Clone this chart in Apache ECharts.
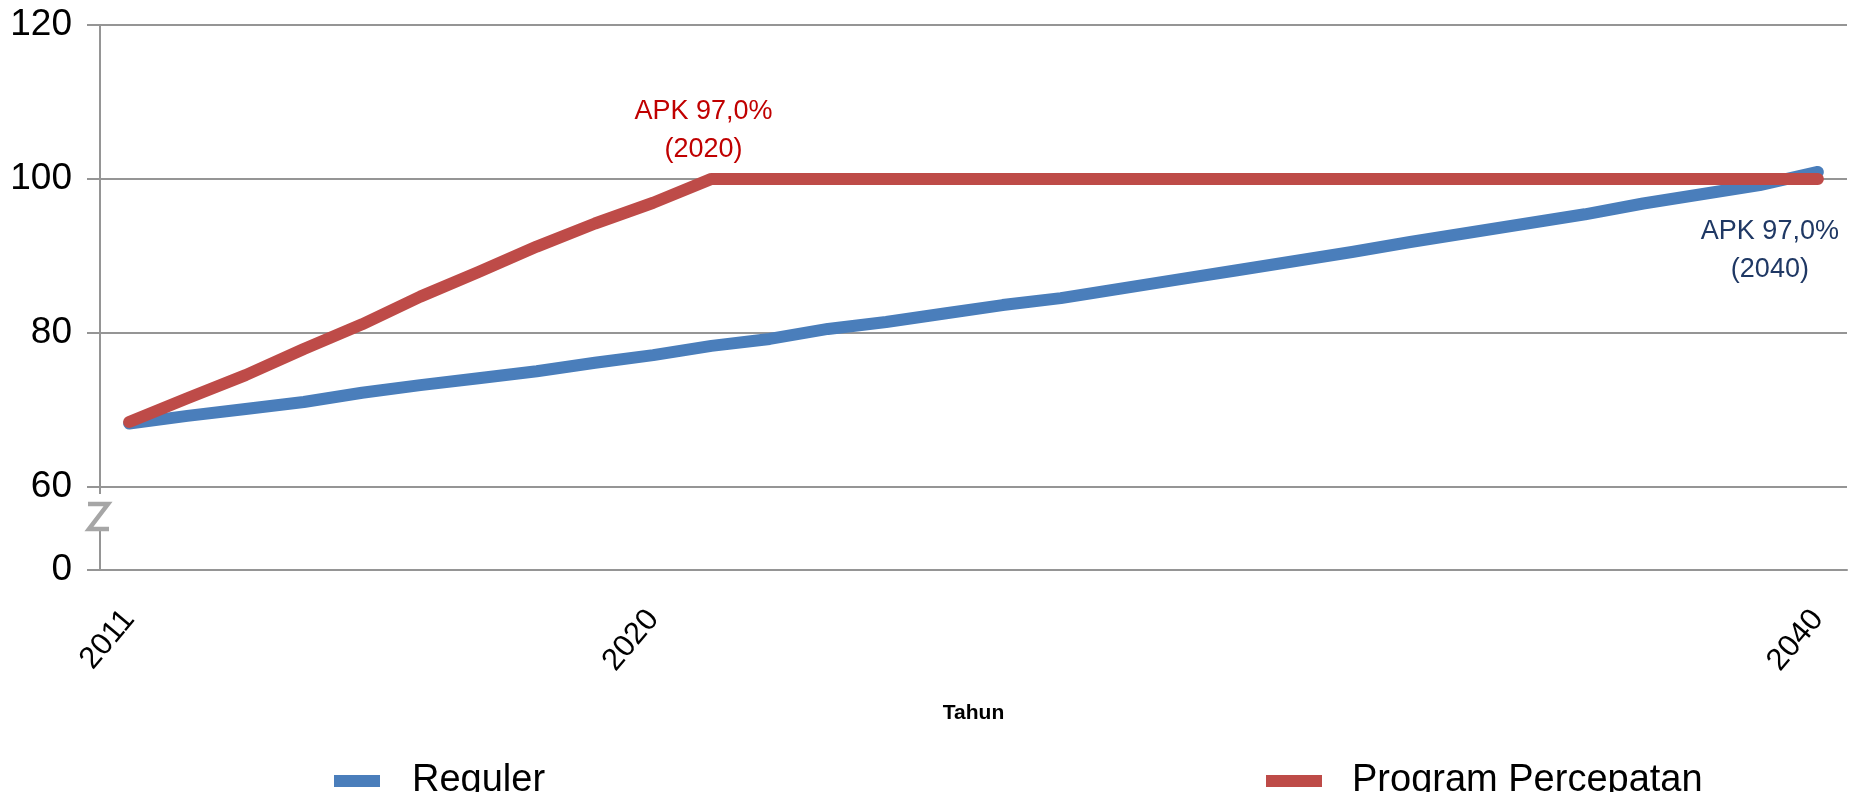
<!DOCTYPE html>
<html><head><meta charset="utf-8">
<script src="https://cdn.jsdelivr.net/npm/echarts@6/dist/echarts.min.js"></script>
<style>html,body{margin:0;padding:0;background:#fff}#c{width:1850px;height:792px}</style>
</head><body><div id="c"></div>
<script>
const years = ['2011','2012','2013','2014','2015','2016','2017','2018','2019','2020',
  '2021','2022','2023','2024','2025','2026','2027','2028','2029','2030',
  '2031','2032','2033','2034','2035','2036','2037','2038','2039','2040'];
const reguler = [68.2, 69.2, 70.1, 71.0, 72.2, 73.2, 74.1, 75.0, 76.1, 77.1,
  78.3, 79.2, 80.5, 81.4, 82.5, 83.6, 84.5, 85.7, 86.9, 88.1,
  89.3, 90.5, 91.8, 93.0, 94.2, 95.4, 96.8, 98.0, 99.2, 100.9];
const percepatan = [68.4, 71.5, 74.5, 77.9, 81.1, 84.7, 87.9, 91.2, 94.2, 96.9,
  100, 100, 100, 100, 100, 100, 100, 100, 100, 100,
  100, 100, 100, 100, 100, 100, 100, 100, 100, 100];
const seriesNames = ['Reguler', 'Program Percepatan'];
const yTickValues = [0, 60, 80, 100, 120];
const yTickLabels = ['0', '60', '80', '100', '120'];
const xLabelYears = ['2011', '2020', '2040'];
const xAxisTitle = 'Tahun';
const annotRed = { year: '2021', text: 'APK 97,0%\n(2020)' };
const annotBlue = { year: '2040', text: 'APK 97,0%\n(2040)' };

// broken axis: 0..60 compressed into a short segment below 60
const AXIS_ZERO = 49.17;
function toAxis(v) { return v >= 60 ? v : AXIS_ZERO + v * (60 - AXIS_ZERO) / 60; }
const tickPos = yTickValues.map(toAxis);

const FONT = "'Liberation Sans', Arial, sans-serif";
const BLUE = '#4A7EBB', RED = '#BE4B48', GRID = '#959595';

const chart = echarts.init(document.getElementById('c'), null, { renderer: 'canvas' });
const idxRed = years.indexOf(annotRed.year);
const idxBlue = years.indexOf(annotBlue.year);

chart.setOption({
  backgroundColor: '#fff',
  animation: false,
  grid: { left: 100, right: 3, top: 25, bottom: 222, containLabel: false },
  legend: [
    { data: [seriesNames[0]], left: 329, top: 757, icon: 'rect', itemWidth: 46, itemHeight: 12,
      textStyle: { fontSize: 38, color: '#000', fontFamily: FONT, padding: [0, 0, 0, 27] } },
    { data: [seriesNames[1]], left: 1261, top: 757, icon: 'rect', itemWidth: 56, itemHeight: 12,
      textStyle: { fontSize: 38, color: '#000', fontFamily: FONT, padding: [0, 0, 0, 25] } }
  ],
  xAxis: {
    type: 'category', data: years, boundaryGap: true,
    name: xAxisTitle, nameLocation: 'middle', nameGap: 133,
    nameTextStyle: { fontSize: 21, fontWeight: 'bold', color: '#000', fontFamily: FONT },
    axisLine: { lineStyle: { color: GRID, width: 2 } },
    axisTick: { show: false },
    splitLine: { show: false },
    axisLabel: {
      interval: (i, v) => xLabelYears.indexOf(v) >= 0,
      rotate: 50, margin: 44, fontSize: 31, color: '#000', fontFamily: FONT
    }
  },
  yAxis: {
    type: 'value', min: AXIS_ZERO, max: 120,
    axisLine: { show: true, lineStyle: { color: GRID, width: 2 } },
    axisTick: { show: true, length: 13, customValues: tickPos, lineStyle: { color: GRID, width: 2 } },
    splitLine: { show: true, lineStyle: { color: GRID, width: 2 } },
    axisLabel: {
      customValues: tickPos, margin: 28, fontSize: 37, color: '#000', fontFamily: FONT,
      formatter: (val) => {
        const k = tickPos.findIndex(p => Math.abs(p - val) < 1e-6);
        return k >= 0 ? yTickLabels[k] : '';
      }
    }
  },
  series: [
    {
      name: seriesNames[0], type: 'line', data: reguler.map(toAxis), showSymbol: false, symbol: 'none',
      itemStyle: { color: BLUE },
      lineStyle: { color: BLUE, width: 12, cap: 'round', join: 'round' },
      z: 3,
      markPoint: {
        symbol: 'circle', symbolSize: 0,
        data: [{ coord: [idxBlue, toAxis(reguler[idxBlue])] }],
        label: { show: true, position: 'inside', offset: [-48, 79], formatter: annotBlue.text,
          fontSize: 27, lineHeight: 38, color: '#1F3864', fontFamily: FONT, align: 'center' }
      }
    },
    {
      name: seriesNames[1], type: 'line', data: percepatan.map(toAxis), showSymbol: false, symbol: 'none',
      itemStyle: { color: RED },
      lineStyle: { color: RED, width: 12, cap: 'round', join: 'round' },
      z: 4,
      markPoint: {
        symbol: 'circle', symbolSize: 0,
        data: [{ coord: [idxRed, toAxis(percepatan[idxRed])] }],
        label: { show: true, position: 'inside', offset: [-8, -48], formatter: annotRed.text,
          fontSize: 27, lineHeight: 38, color: '#C00000', fontFamily: FONT, align: 'center' }
      }
    }
  ],
  graphic: [
    { type: 'rect', z: 100, shape: { x: 90, y: 494, width: 18, height: 36 }, style: { fill: '#fff' } },
    { type: 'polyline', z: 101, shape: { points: [[88, 504], [108, 504], [89, 529], [109, 529]] },
      style: { stroke: '#A6A6A6', lineWidth: 4.5, fill: null, lineJoin: 'miter' } }
  ]
});
</script></body></html>
